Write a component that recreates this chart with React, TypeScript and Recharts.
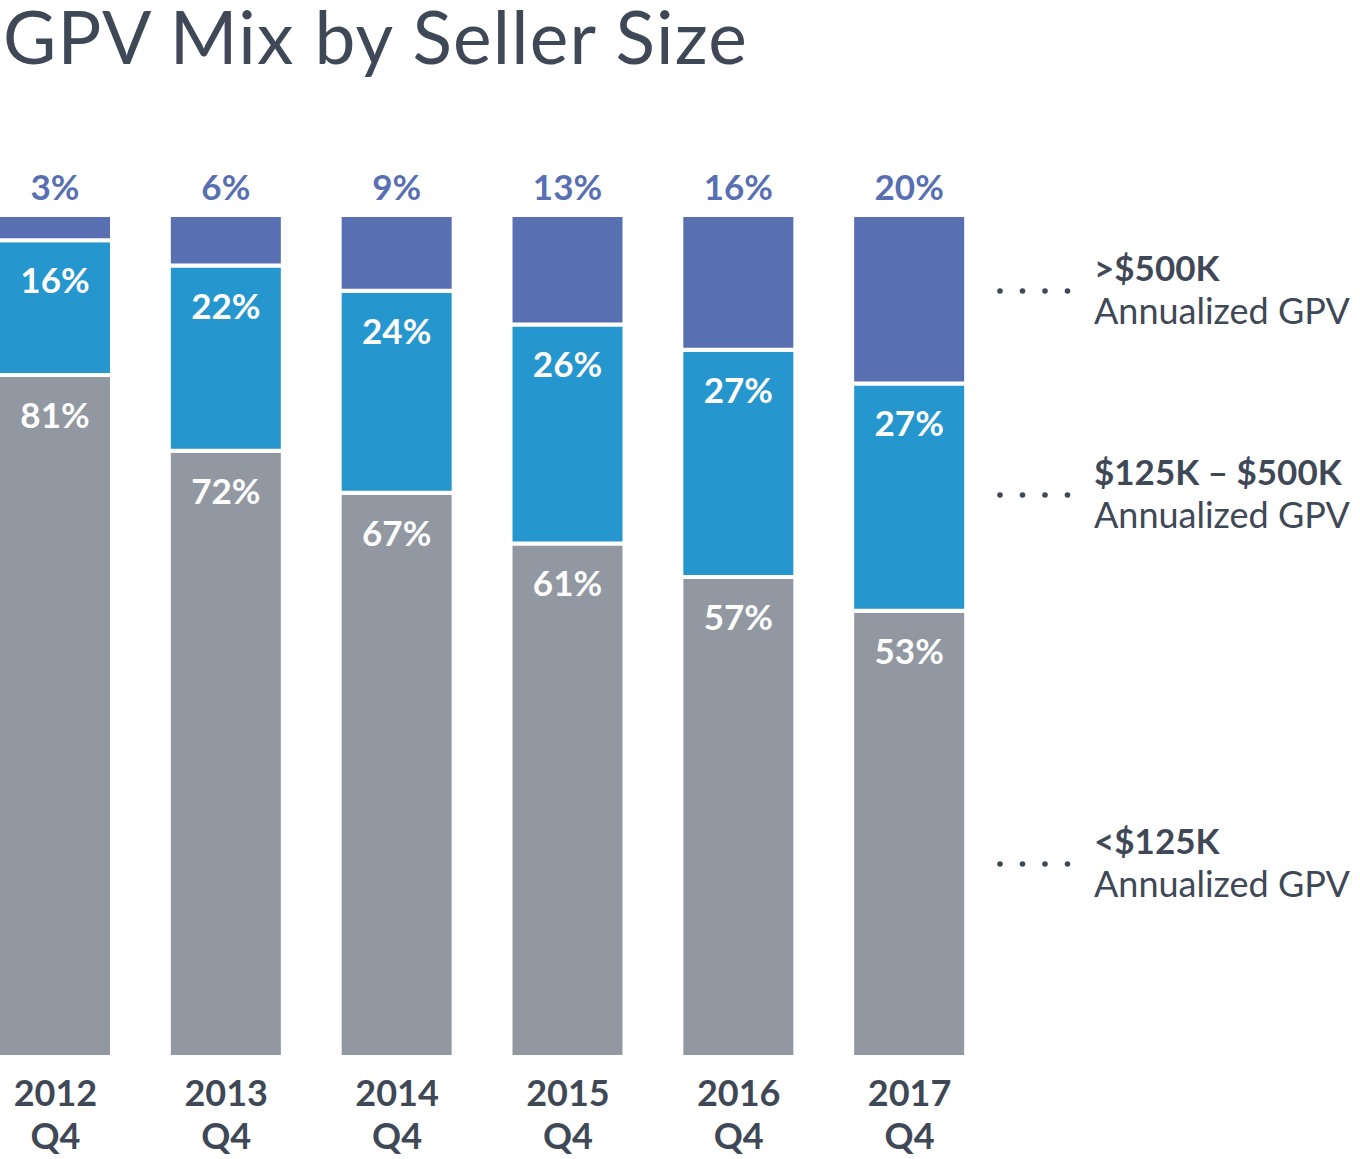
import React from "react";
import { BarChart, Bar, XAxis, YAxis, LabelList } from "recharts";

// GPV mix by seller size, Q4 of each year (percent of GPV)
const years = ["2012", "2013", "2014", "2015", "2016", "2017"];
const quarterLabel = "Q4";
const under125k = [81, 72, 67, 61, 57, 53];
const from125kTo500k = [16, 22, 24, 26, 27, 27];
const over500k = [3, 6, 9, 13, 16, 20];

const legendItems = [
  { title: ">$500K", sub: "Annualized GPV" },
  { title: "$125K – $500K", sub: "Annualized GPV" },
  { title: "<$125K", sub: "Annualized GPV" },
];

const data = years.map((y, i) => ({
  year: y,
  small: under125k[i],
  mid: from125kTo500k[i],
  large: over500k[i],
}));

const FONT = "Lato, 'Open Sans', sans-serif";
const TEXT = "#3F4856";
const GRAY = "#9298A2";
const BLUE = "#2697CE";
const INDIGO = "#5870B2";

const InsideLabel = (props: any) => {
  const { x, y, width, value } = props;
  return (
    <text x={x + width / 2} y={y + 53} textAnchor="middle" fill="#fff"
      fontFamily={FONT} fontWeight={700} fontSize={35}>
      {value}%
    </text>
  );
};

const TopLabel = (props: any) => {
  const { x, y, width, value } = props;
  return (
    <text x={x + width / 2} y={y - 15} textAnchor="middle" fill={INDIGO}
      fontFamily={FONT} fontWeight={700} fontSize={35}>
      {value}%
    </text>
  );
};

const YearTick = (props: any) => {
  const { x, y, payload } = props;
  return (
    <g>
      <text x={x} y={y + 41} textAnchor="middle" fill={TEXT}
        fontFamily={FONT} fontWeight={700} fontSize={36}>
        {payload.value}
      </text>
      <text x={x} y={y + 84} textAnchor="middle" fill={TEXT}
        fontFamily={FONT} fontWeight={700} fontSize={36}>
        {quarterLabel}
      </text>
    </g>
  );
};

const legendY = [291, 495, 864];

export default function App() {
  return (
    <div style={{ position: "absolute", left: 0, top: 0, width: 1360, height: 1159, background: "#fff", overflow: "hidden" }}>
      <div style={{ position: "absolute", left: -30, top: 0 }}>
        <BarChart width={1390} height={1159} data={data}
          margin={{ top: 215, right: 365, bottom: 0, left: 0 }}>
          <XAxis dataKey="year" axisLine={false} tickLine={false} height={102}
            interval={0} tick={<YearTick />} />
          <YAxis hide domain={[0, 100]} />
          <Bar dataKey="small" stackId="a" fill={GRAY} stroke="#fff" strokeWidth={4}
            barSize={114} isAnimationActive={false}>
            <LabelList dataKey="small" content={<InsideLabel />} />
          </Bar>
          <Bar dataKey="mid" stackId="a" fill={BLUE} stroke="#fff" strokeWidth={4}
            barSize={114} isAnimationActive={false}>
            <LabelList dataKey="mid" content={<InsideLabel />} />
          </Bar>
          <Bar dataKey="large" stackId="a" fill={INDIGO} stroke="#fff" strokeWidth={4}
            barSize={114} isAnimationActive={false}>
            <LabelList dataKey="large" content={<TopLabel />} />
          </Bar>
        </BarChart>
      </div>
      <svg width={1360} height={1159} style={{ position: "absolute", left: 0, top: 0, pointerEvents: "none" }}>
        <text x={3} y={64} fill={TEXT} fontFamily={FONT} fontWeight={400} fontSize={73}
          letterSpacing={1.2}>
          GPV Mix by Seller Size
        </text>
        {legendItems.map((item, i) => (
          <g key={item.title}>
            {[0, 1, 2, 3].map((d) => (
              <circle key={d} cx={1000 + d * 22.5} cy={legendY[i]} r={2.8} fill={TEXT} />
            ))}
            <text x={1094} y={legendY[i] - 10} fill={TEXT} fontFamily={FONT} fontWeight={700} fontSize={35}>
              {item.title}
            </text>
            <text x={1094} y={legendY[i] + 33} fill={TEXT} fontFamily={FONT} fontWeight={400} fontSize={36}>
              {item.sub}
            </text>
          </g>
        ))}
      </svg>
    </div>
  );
}
